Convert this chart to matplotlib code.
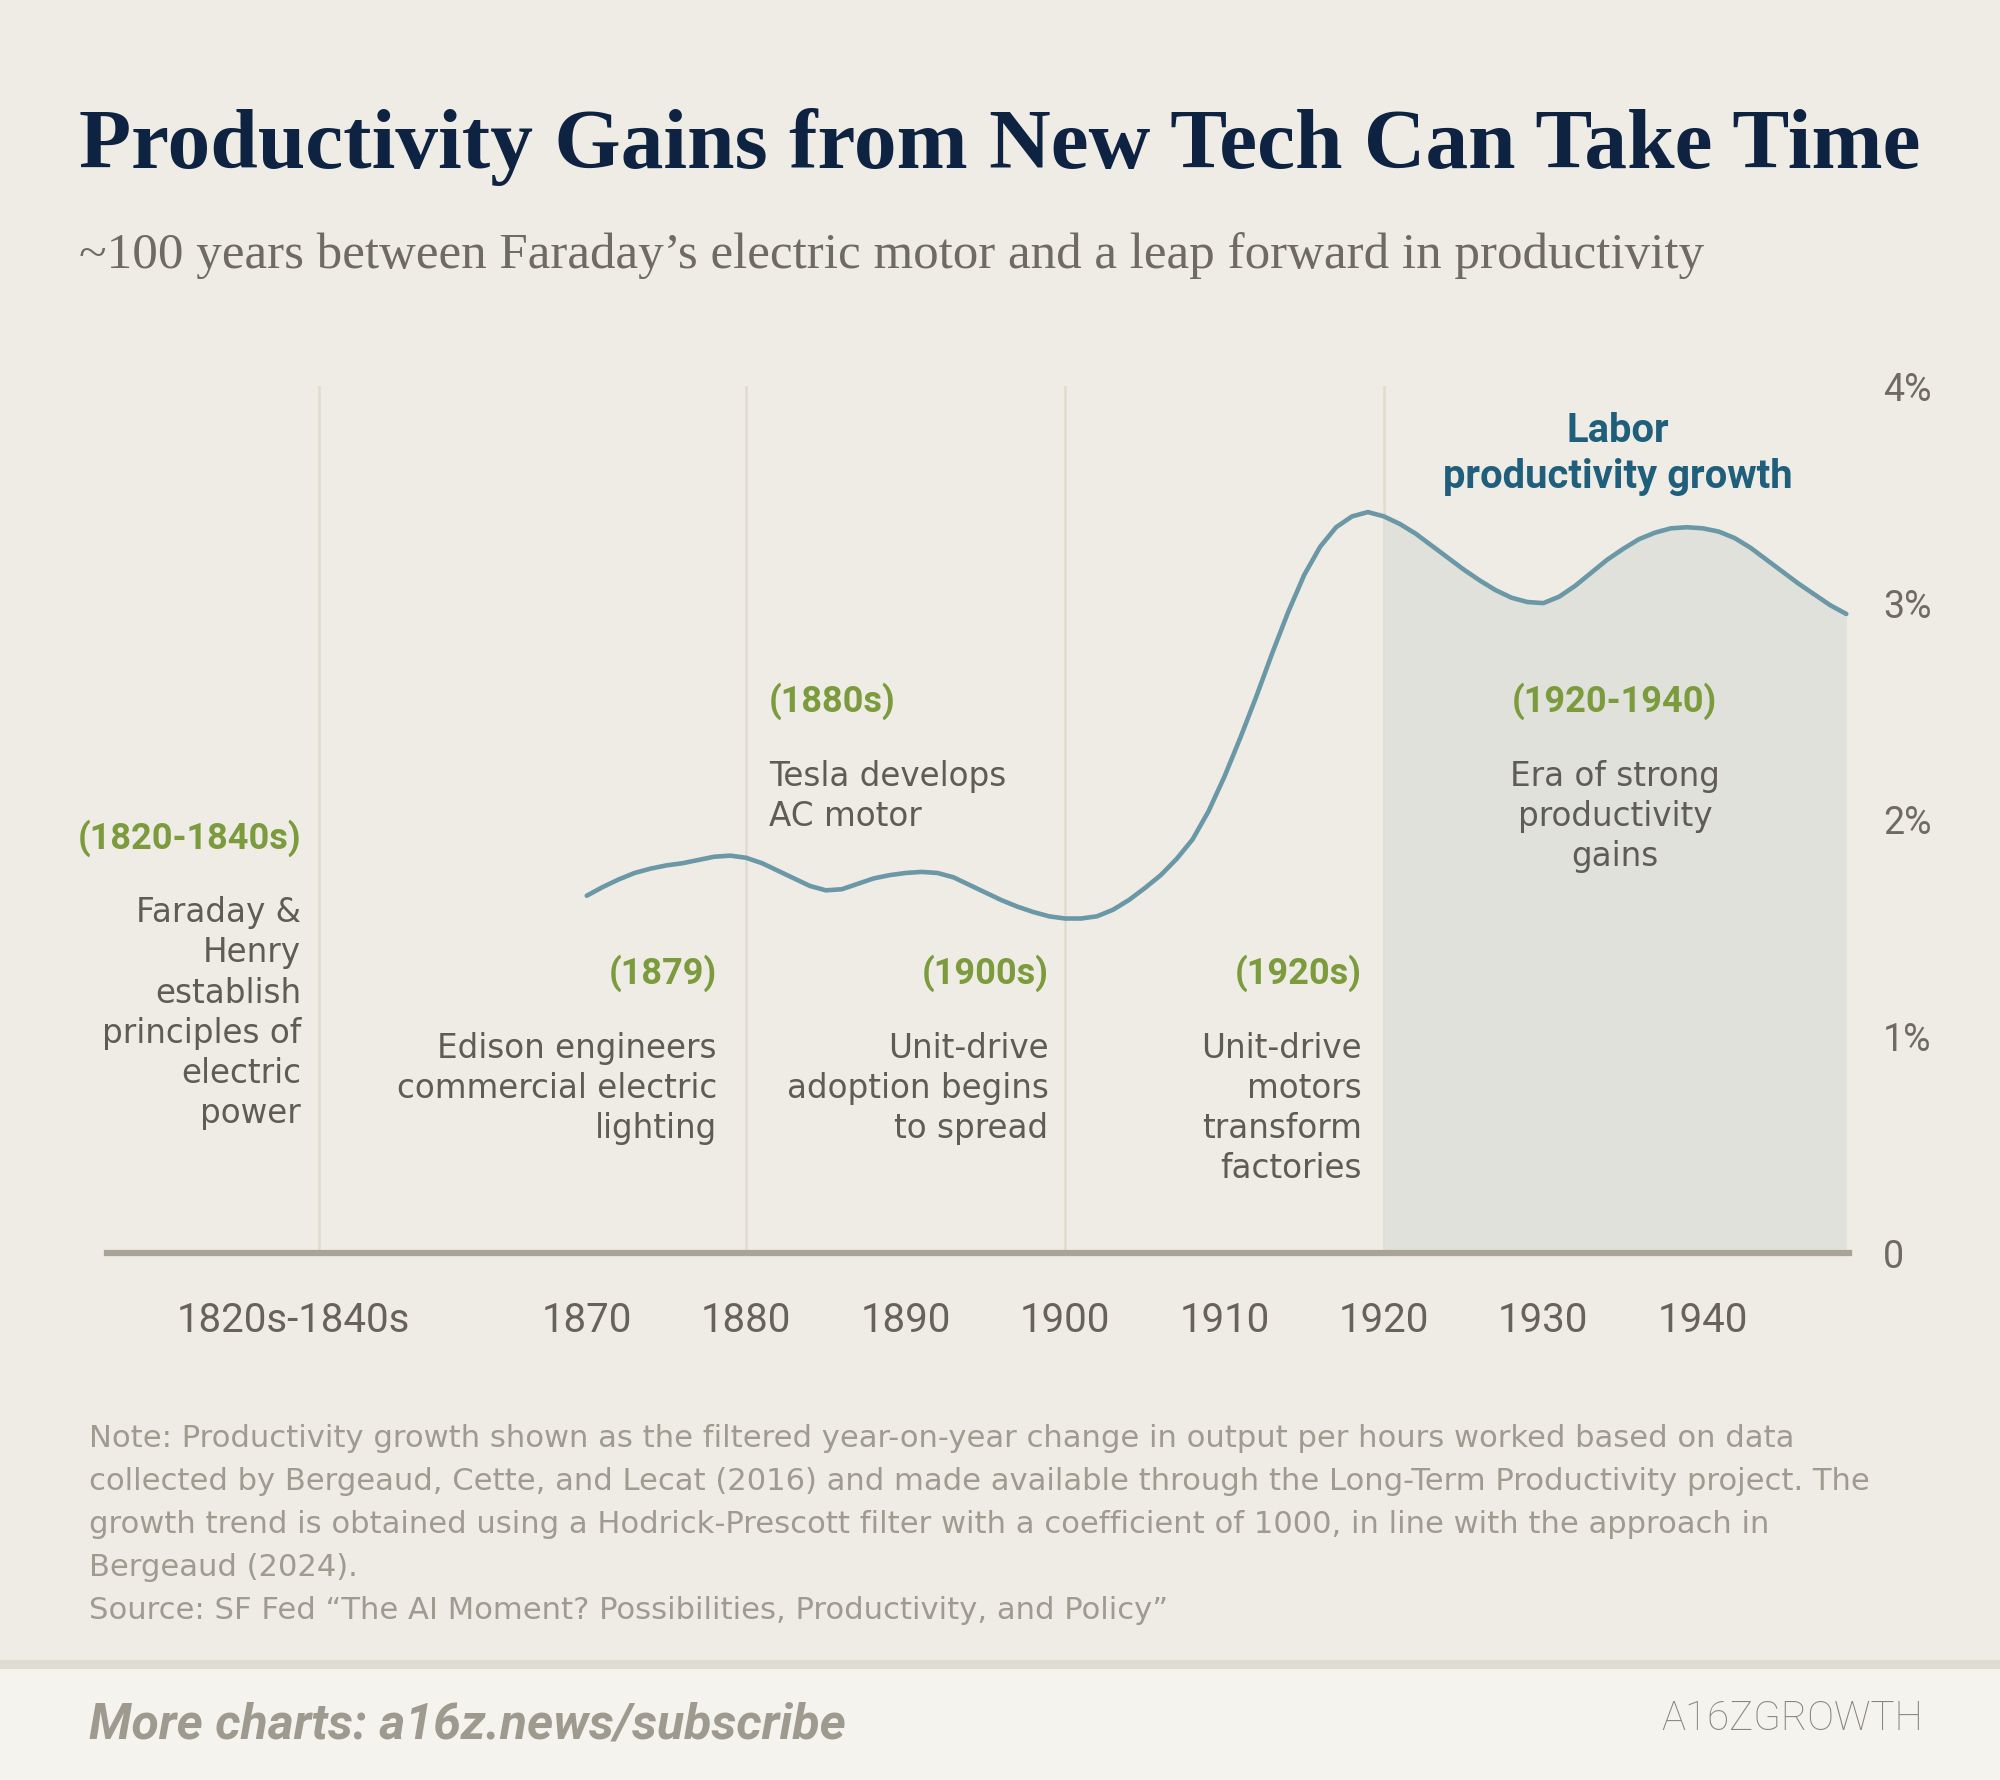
import numpy as np
import matplotlib
matplotlib.use("Agg")
import matplotlib.pyplot as plt
from matplotlib.patches import Rectangle

# labor productivity growth (% y/y, filtered)
years = [1870, 1871, 1872, 1873, 1874, 1875, 1876, 1877, 1878, 1879,
         1880, 1881, 1882, 1883, 1884, 1885, 1886, 1887, 1888, 1889,
         1890, 1891, 1892, 1893, 1894, 1895, 1896, 1897, 1898, 1899,
         1900, 1901, 1902, 1903, 1904, 1905, 1906, 1907, 1908, 1909,
         1910, 1911, 1912, 1913, 1914, 1915, 1916, 1917, 1918, 1919,
         1920, 1921, 1922, 1923, 1924, 1925, 1926, 1927, 1928, 1929,
         1930, 1931, 1932, 1933, 1934, 1935, 1936, 1937, 1938, 1939,
         1940, 1941, 1942, 1943, 1944, 1945, 1946, 1947, 1948, 1949]
growth = [1.65, 1.69, 1.725, 1.755, 1.775, 1.79, 1.80, 1.815, 1.83, 1.835,
          1.825, 1.80, 1.765, 1.73, 1.695, 1.675, 1.68, 1.705, 1.73, 1.745,
          1.755, 1.76, 1.755, 1.735, 1.70, 1.665, 1.63, 1.60, 1.575, 1.555,
          1.545, 1.545, 1.555, 1.585, 1.63, 1.685, 1.745, 1.82, 1.91, 2.04,
          2.20, 2.38, 2.57, 2.77, 2.96, 3.13, 3.26, 3.35, 3.40, 3.42,
          3.40, 3.365, 3.32, 3.265, 3.21, 3.155, 3.105, 3.06, 3.025, 3.005,
          3.00, 3.03, 3.08, 3.14, 3.20, 3.25, 3.295, 3.325, 3.345, 3.35,
          3.345, 3.33, 3.30, 3.255, 3.20, 3.145, 3.09, 3.04, 2.99, 2.95]

era_start = 1920
tick_years = [1870, 1880, 1890, 1900, 1910, 1920, 1930, 1940]
early_label = "1820s-1840s"
divider_years = [1880, 1900, 1920]
y_ticks = [0, 1, 2, 3, 4]
y_labels = ["0", "1%", "2%", "3%", "4%"]

title = "Productivity Gains from New Tech Can Take Time"
subtitle = "~100 years between Faraday\u2019s electric motor and a leap forward in productivity"
series_label = ["Labor", "productivity growth"]

events = {
    "early": ("(1820-1840s)", ["Faraday &", "Henry", "establish", "principles of", "electric", "power"]),
    "1879": ("(1879)", ["Edison engineers", "commercial electric", "lighting"]),
    "1880s": ("(1880s)", ["Tesla develops", "AC motor"]),
    "1900s": ("(1900s)", ["Unit-drive", "adoption begins", "to spread"]),
    "1920s": ("(1920s)", ["Unit-drive", "motors", "transform", "factories"]),
    "era": ("(1920-1940)", ["Era of strong", "productivity", "gains"]),
}

note_lines = [
    "Note: Productivity growth shown as the filtered year-on-year change in output per hours worked based on data",
    "collected by Bergeaud, Cette, and Lecat (2016) and made available through the Long-Term Productivity project. The",
    "growth trend is obtained using a Hodrick-Prescott filter with a coefficient of 1000, in line with the approach in",
    "Bergeaud (2024).",
    "Source: SF Fed \u201cThe AI Moment? Possibilities, Productivity, and Policy\u201d",
]

BG = "#efece5"
NAVY = "#0e2341"
GREEN = "#7b9b3d"
GREY = "#5f5b55"
TEAL = "#1f5f7b"
LINE = "#6b98a6"

# layout grid of the reference (x right, y down)
W, H = 1568, 1396
def fx(x): return x / W
def fy(y): return 1 - y / H

fig = plt.figure(figsize=(20, 17.8), dpi=100, facecolor=BG)
renderer = fig.canvas.get_renderer()

def fit(t, width):
    # scale a text so that it spans `width` reference px
    w = t.get_window_extent(renderer).width
    t.set_fontsize(t.get_fontsize() * width * 2000 / W / w)
    return t.get_fontsize()

# footer band
fig.patches.append(Rectangle((0, 0), 1, fy(1303), transform=fig.transFigure,
                             facecolor="#f5f3ee", edgecolor="none", zorder=0))
fig.patches.append(Rectangle((0, fy(1309)), 1, fy(1302) - fy(1309), transform=fig.transFigure,
                             facecolor="#dfdcd2", edgecolor="none", zorder=0))

# chart area
ax = fig.add_axes([fx(84), fy(983), fx(1450) - fx(84), fy(303) - fy(983)])
ax.set_facecolor("none")
x0 = 1870 + (84 - 460) / 12.5
x1 = 1870 + (1450 - 460) / 12.5
early_x = 1870 + (230 - 460) / 12.5
ax.set_xlim(x0, x1)
ax.set_ylim(0, 4)

yrs = np.array(years)
g = np.array(growth)
era = yrs >= era_start
ax.fill_between(yrs[era], g[era], 0, color="#e0e1da", lw=0, zorder=1)
for xv in [1870 + (250 - 460) / 12.5] + divider_years:
    ax.axvline(xv, color="#e0dbcd", lw=1.8, zorder=0)
ax.plot(yrs, g, color=LINE, lw=3.3, solid_capstyle="round",
        solid_joinstyle="round", zorder=3)
ax.axhline(0, color="#aaa397", lw=4.5, zorder=4, clip_on=False)

for s in ax.spines.values():
    s.set_visible(False)
ax.set_xticks([early_x] + tick_years)
ax.set_xticklabels([early_label] + [str(y) for y in tick_years])
ax.yaxis.tick_right()
ax.set_yticks(y_ticks)
ax.set_yticklabels(y_labels)
ax.tick_params(length=0, colors="#67635c", labelsize=29)
ax.tick_params(axis="x", pad=34)
ax.tick_params(axis="y", pad=24, colors="#6f6b64")
for lab in ax.get_xticklabels() + ax.get_yticklabels():
    lab.set_family("Roboto")
for lab in ax.get_yticklabels():
    lab.set_fontsize(27)

# title + subtitle
t = fig.text(fx(62), fy(132), title, family="Liberation Serif", weight="bold",
             color=NAVY, fontsize=60, va="baseline")
fit(t, 1444)
t = fig.text(fx(62), fy(210), subtitle, family="Liberation Serif", color="#6f6b64",
             fontsize=36, va="baseline")
fit(t, 1271)

# series label
for i, s in enumerate(series_label):
    fig.text(fx(1268), fy(338 + i * 36), s, family="Roboto", weight="bold",
             color=TEAL, fontsize=28.8, ha="center", va="center")

def event(key, x, y_date, y_text, ha, step=31.4):
    date, lines = events[key]
    fig.text(fx(x), fy(y_date), date, family="Roboto", weight="bold",
             color=GREEN, fontsize=26, ha=ha, va="center")
    for i, s in enumerate(lines):
        fig.text(fx(x), fy(y_text + i * step), s, family="DejaVu Sans",
                 color=GREY, fontsize=23.5, ha=ha, va="center")

event("early", 236, 657, 716, "right")
event("1880s", 603, 550, 609, "left")
event("1879", 562, 763, 822, "right")
event("1900s", 822, 763, 822, "right")
event("1920s", 1068, 763, 822, "right")
event("era", 1266, 550, 609, "center")

# notes
texts = [fig.text(fx(70), fy(1128 + i * 33.8), s, family="DejaVu Sans",
                  color="#a09b91", fontsize=20, va="center")
         for i, s in enumerate(note_lines)]
size = fit(texts[1], 1392)
for t in texts:
    t.set_fontsize(size)

# footer
fig.text(fx(70), fy(1353), "More charts: a16z.news/subscribe", family="Roboto",
         weight="bold", style="italic", color="#9f9a90", fontsize=36, va="center")
fig.text(fx(1508), fy(1348), "A16ZGROWTH", family="Roboto", weight="light",
         color="#8a857b", fontsize=29, ha="right", va="center")

fig.savefig("out.png", dpi=100, facecolor=BG)
